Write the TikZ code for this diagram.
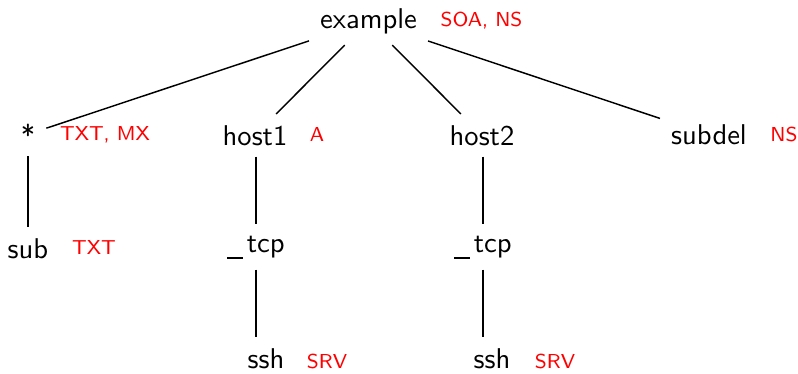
\documentclass[tikz,border=0pt]{standalone}
\font\mainf="[lmsans10-regular]" at 28.6pt
\font\redf="[lmsans8-regular]" at 20.2pt
\newcommand{\undr}{\rule[-6.5pt]{16pt}{1.4pt}\kern3.5pt}
\begin{document}
\begin{tikzpicture}[x=1pt,y=-1pt,
  nm/.style={font=\mainf, inner sep=11pt, anchor=base},
  rr/.style={font=\redf, text=red, inner sep=0pt, anchor=base},
  conn/.style={line width=1.45pt}]
\useasboundingbox (0,0) rectangle (798,373);
% names
\node[nm] (ex)   at (368.5,28.3) {example};
\node[nm] (star) at (28,145)     {*};
\node[nm] (h1)   at (255,145)    {host1};
\node[nm] (h2)   at (482,145)    {host2};
\node[nm] (sd)   at (709,144.5)  {subdel};
\node[nm] (sub)  at (28,258)     {sub};
\node[nm] (t1)   at (256,252)    {\undr tcp};
\node[nm] (t2)   at (483,252)    {\undr tcp};
\node[nm] (s1)   at (266,368)    {ssh};
\node[nm] (s2)   at (492,368)    {ssh};
% record labels
\node[rr] (lex)   at (481.5,26.7) {SOA, NS};
\node[rr] (lstar) at (105,140.7)  {TXT, MX};
\node[rr] (lh1)   at (317,141.5)  {A};
\node[rr] (lsd)   at (784,141)    {NS};
\node[rr] (lsub)  at (94,254.5)   {TXT};
\node[rr] (ls1)   at (327,368)    {SRV};
\node[rr] (ls2)   at (555,368)    {SRV};
% connectors
\draw[conn] (ex) -- (star);
\draw[conn] (ex) -- (h1);
\draw[conn] (ex) -- (h2);
\draw[conn] (ex) -- (sd);
\draw[conn] (star) -- (sub);
\draw[conn] (h1.south -| t1) -- (t1);
\draw[conn] (h2.south -| t2) -- (t2);
\draw[conn] (t1.south) -- (t1.south |- s1.north);
\draw[conn] (t2.south) -- (t2.south |- s2.north);
\end{tikzpicture}
\end{document}
